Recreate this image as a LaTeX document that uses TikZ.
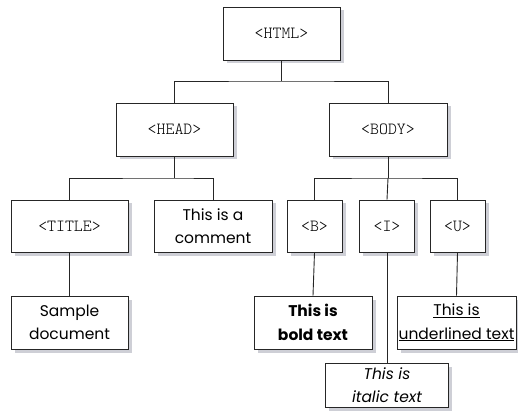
\documentclass[tikz,border=0pt]{standalone}
\usepackage{fontspec}
\setmainfont{Poppins}
\usetikzlibrary{shadows}
\definecolor{shadowgray}{RGB}{206,207,214}
\tikzset{
  box/.style={draw=black!85, line width=0.9pt, fill=white, inner sep=0pt,
    drop shadow={shadow xshift=3.5pt, shadow yshift=-3.5pt, fill=shadowgray, opacity=1}},
  tagbox/.style={box, font=\ttfamily\fontseries{l}\fontsize{17}{20}\selectfont},
  txtbox/.style={box, align=center, font=\fontsize{15.5}{23.5}\selectfont},
  link/.style={line width=0.9pt, draw=black!85}
}
\begin{document}
\begin{tikzpicture}[x=1pt, y=-1pt]
  \useasboundingbox (0,0) rectangle (518,419);
  % element boxes
  \node[tagbox, minimum width=117pt, minimum height=53pt] (html)  at (281.5,33.5)  {<HTML>};
  \node[tagbox, minimum width=117pt, minimum height=53pt] (head)  at (174.5,129.5) {<HEAD>};
  \node[tagbox, minimum width=118pt, minimum height=53pt] (body)  at (388,129.5)   {<BODY>};
  \node[tagbox, minimum width=117pt, minimum height=52pt] (title) at (69.5,226)    {<TITLE>};
  \node[txtbox, minimum width=118pt, minimum height=52pt] (cmt)   at (213,226)     {This is a\\comment};
  \node[tagbox, minimum width=55pt,  minimum height=52pt] (b)     at (314.5,226)   {<B>};
  \node[tagbox, minimum width=55pt,  minimum height=52pt] (i)     at (387,226)     {<I>};
  \node[tagbox, minimum width=55pt,  minimum height=52pt] (u)     at (457.5,226)   {<U>};
  % content boxes
  \node[txtbox, minimum width=117pt, minimum height=53pt] (sample) at (69.5,322.5) {Sample\\document};
  \node[txtbox, minimum width=118pt, minimum height=53pt, font=\bfseries\fontsize{15.5}{23.5}\selectfont] (bold) at (313,322.5) {This is\\bold text};
  \node[txtbox, minimum width=119pt, minimum height=53pt] (under) at (456.5,322.5) {\underline{This is}\\\underline{underlined text}};
  \node[txtbox, minimum width=123pt, minimum height=44pt, font=\itshape\fontsize{15.5}{23.5}\selectfont] (ital) at (387,385) {This is\\italic text};
  % junction points
  \coordinate (j1) at (281.5,81);
  \coordinate (j2) at (174.5,178);
  \coordinate (j3) at (388,178);
  % connectors
  \draw[link] (html.south) -- (j1);
  \draw[link] (head.north) |- (j1) -| (body.north);
  \draw[link] (head.south) -- (j2);
  \draw[link] (title.north) |- (j2) -| (cmt.north);
  \draw[link] (body.south) -- (j3);
  \draw[link] (b.north) |- (j3) -| (u.north);
  \draw[link] (j3) -- (i.north);
  \draw[link] (title.south) -- (sample.north);
  \draw[link] (b.south) -- (bold.north);
  \draw[link] (i.south) -- (ital.north);
  \draw[link] (u.south) -- (under.north);
\end{tikzpicture}
\end{document}
